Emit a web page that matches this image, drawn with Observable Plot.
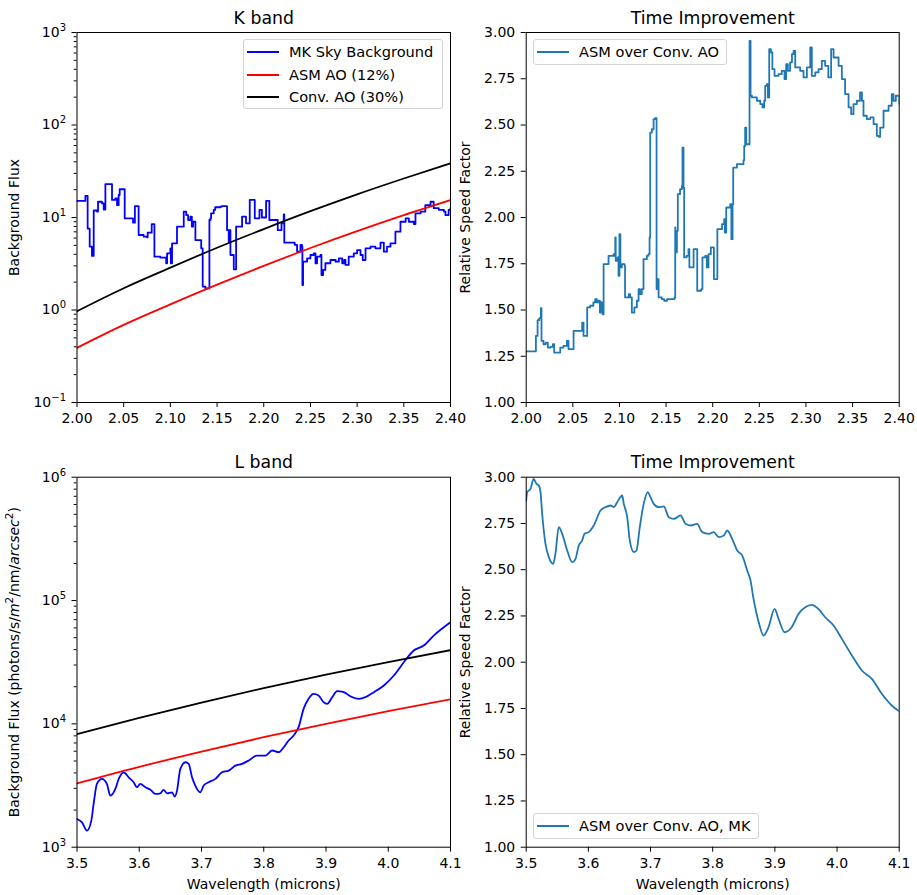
<!DOCTYPE html>
<html><head><meta charset="utf-8">
<script src="https://cdn.jsdelivr.net/npm/d3@7"></script>
<script src="https://cdn.jsdelivr.net/npm/@observablehq/plot@0.6"></script>
<style>
body{margin:0;background:#fff;}
#fig{position:relative;width:917px;height:895px;font-family:"DejaVu Sans",sans-serif;overflow:hidden;}
.panel{position:absolute;}
.legend{position:absolute;background:rgba(255,255,255,0.85);border:1px solid #d4d4d4;border-radius:3px;font-size:14.6px;color:#000;box-sizing:border-box;}
.row{position:absolute;left:0;height:20px;white-space:nowrap;}
.row .sw{position:absolute;left:3px;top:9px;width:32px;height:0;border-top:2px solid;}
.row span{position:absolute;left:45px;top:0px;line-height:20px;}
</style></head>
<body><div id="fig"></div>
<script>
// ---------- K band ----------
const kTicksX = [2.00, 2.05, 2.10, 2.15, 2.20, 2.25, 2.30, 2.35, 2.40];
const kFluxTicks = [0.1, 1, 10, 100, 1000];
const kFluxTickLabels = ["10^\u22121", "10^0", "10^1", "10^2", "10^3"];
const kSkyWave = [2.000,2.009,2.0114,2.0136,2.016,2.0179,2.0214,2.0225,2.0268,2.0286,2.0304,2.0375,2.041,2.0429,2.0446,2.0457,2.0511,2.060,2.062,2.066,2.0714,2.075,2.0757,2.080,2.0829,2.0893,2.0950,2.0955,2.0965,2.100,2.1005,2.1018,2.1071,2.1143,2.117,2.119,2.1214,2.123,2.1243,2.1268,2.133,2.1346,2.1375,2.1418,2.143,2.1436,2.1464,2.148,2.1536,2.155,2.1607,2.1625,2.1632,2.1643,2.1679,2.1704,2.1768,2.181,2.185,2.1904,2.1954,2.198,2.2025,2.206,2.215,2.219,2.2214,2.222,2.2332,2.2357,2.2393,2.241,2.2414,2.2421,2.2464,2.25,2.2536,2.2554,2.2571,2.2607,2.2618,2.2636,2.266,2.2714,2.277,2.2804,2.284,2.286,2.2875,2.291,2.2964,2.300,2.3036,2.306,2.309,2.3143,2.3196,2.325,2.3286,2.332,2.3357,2.341,2.3464,2.352,2.3554,2.3607,2.3625,2.368,2.373,2.3786,2.382,2.3875,2.393,2.3946,2.398,2.400];
const kSkyFlux = [15.1,17.1,7.6,4.84,3.84,11.9,11.6,14.8,14.2,12.2,23.0,15.5,16.1,13.6,17.5,20.2,9.8,8.8,13.3,6.47,6.2,6.1,6.86,8.5,3.77,3.68,3.68,3.2,4.1,4.64,3.2,5.26,7.96,11.6,10.6,9.4,10.2,7.96,9.0,5.7,4.64,1.79,1.71,9.4,9.8,11.1,12.1,12.9,13.1,13.3,7.3,5.48,7.3,3.93,2.75,7.96,10.2,8.65,15.5,9.8,12.1,10.0,15.1,9.4,7.3,8.65,10.8,5.35,5.05,4.27,5.05,4.84,1.86,3.33,3.62,3.93,4.1,3.2,3.77,3.93,2.39,2.71,3.2,3.47,3.33,3.62,3.2,3.47,3.07,3.77,4.1,4.45,3.93,3.47,4.64,4.84,4.64,5.35,4.27,4.84,5.26,7.03,9.0,9.8,9.0,8.5,11.1,11.6,13.6,14.8,12.6,12.1,11.6,10.6,12.1,12.6];
const kAOWave = [2.00, 2.05, 2.10, 2.15, 2.20, 2.25, 2.30, 2.35, 2.40];
const kAsmFlux = [0.39, 0.69, 1.15, 1.88, 3.0, 4.68, 7.12, 10.6, 15.4];
const kConvFlux = [0.97, 1.72, 2.87, 4.71, 7.5, 11.7, 17.8, 26.4, 38.5];
const kGainWave = [2.000,2.0104,2.0122,2.014,2.0157,2.0164,2.0186,2.021,2.0232,2.026,2.0286,2.030,2.0365,2.040,2.0436,2.0454,2.0508,2.060,2.0615,2.0654,2.0686,2.072,2.074,2.0758,2.0776,2.079,2.080,2.0819,2.083,2.0883,2.0937,2.095,2.0955,2.096,2.098,2.099,2.100,2.101,2.1026,2.1055,2.106,2.110,2.1115,2.1133,2.116,2.1187,2.1205,2.122,2.124,2.1258,2.1294,2.131,2.1323,2.133,2.1348,2.1366,2.1383,2.1398,2.1408,2.142,2.1455,2.148,2.151,2.159,2.1598,2.160,2.1616,2.1626,2.165,2.167,2.1676,2.1687,2.1694,2.172,2.174,2.175,2.1795,2.1834,2.1877,2.189,2.192,2.1937,2.1955,2.198,2.2013,2.205,2.210,2.2123,2.213,2.2145,2.2188,2.220,2.2213,2.222,2.226,2.233,2.2338,2.2348,2.236,2.2395,2.2406,2.242,2.2474,2.251,2.2534,2.2552,2.2563,2.258,2.2592,2.2606,2.2624,2.264,2.2663,2.2706,2.274,2.277,2.2788,2.2806,2.283,2.285,2.2867,2.2885,2.2938,2.2974,2.301,2.3046,2.3063,2.310,2.3135,2.317,2.3206,2.324,2.327,2.3296,2.335,2.3385,2.342,2.3457,2.3485,2.351,2.3546,2.358,2.360,2.3617,2.3653,2.369,2.3725,2.376,2.378,2.3796,2.3832,2.3886,2.392,2.3939,2.3964,2.400];
const kGain = [1.276,1.36,1.445,1.456,1.510,1.333,1.315,1.324,1.297,1.301,1.315,1.270,1.297,1.306,1.333,1.288,1.387,1.432,1.36,1.514,1.523,1.541,1.559,1.541,1.550,1.486,1.541,1.477,1.748,1.793,1.802,1.793,1.892,1.766,1.784,1.685,1.910,1.730,1.748,1.739,1.568,1.586,1.568,1.486,1.514,1.550,1.613,1.586,1.613,1.775,1.793,1.802,1.892,2.459,2.477,2.532,2.537,1.613,1.667,1.568,1.559,1.550,1.559,1.568,1.946,1.811,1.928,2.126,2.153,2.171,2.378,2.162,1.784,1.793,1.829,1.730,1.829,1.604,1.613,1.784,1.793,1.730,1.802,1.838,1.667,1.937,1.964,1.991,1.919,2.054,2.072,1.883,2.072,2.270,2.288,2.310,2.387,2.486,2.396,2.955,2.658,2.649,2.631,2.613,2.595,2.631,2.712,2.721,2.649,2.910,2.892,2.802,2.766,2.775,2.793,2.748,2.829,2.793,2.838,2.883,2.901,2.811,2.793,2.757,2.811,2.919,2.766,2.784,2.802,2.847,2.820,2.757,2.910,2.865,2.820,2.748,2.667,2.595,2.559,2.613,2.631,2.676,2.631,2.550,2.532,2.541,2.505,2.441,2.436,2.486,2.577,2.604,2.667,2.631,2.658,2.613];

// ---------- L band ----------
const lTicksX = [3.5, 3.6, 3.7, 3.8, 3.9, 4.0, 4.1];
const lFluxTicks = [1e3, 1e4, 1e5, 1e6];
const lFluxTickLabels = ["10^3", "10^4", "10^5", "10^6"];
const speedTicks = [1.00, 1.25, 1.50, 1.75, 2.00, 2.25, 2.50, 2.75, 3.00];
const lSkyWave = [3.5,3.508,3.516,3.523,3.5267,3.532,3.540,3.548,3.5535,3.5616,3.567,3.575,3.583,3.591,3.5964,3.6017,3.61,3.618,3.626,3.634,3.639,3.6447,3.6527,3.657,3.6607,3.666,3.674,3.6794,3.6848,3.690,3.698,3.7035,3.7115,3.7223,3.733,3.7437,3.7544,3.7652,3.7758,3.789,3.8026,3.8134,3.824,3.832,3.840,3.848,3.856,3.864,3.872,3.880,3.888,3.896,3.9018,3.91,3.918,3.9286,3.939,3.953,3.9634,3.977,3.993,4.009,4.025,4.041,4.057,4.073,4.1];
const lSkyFlux = [1694,1592,1364,1643,2244,3260,3580,3260,2620,2970,3580,4050,3690,3360,3060,3260,3060,2917,2705,2736,2917,2736,2786,2570,2877,4315,4886,4740,3690,3160,2786,3160,3360,3580,4050,4175,4590,4740,5040,5535,5535,6080,5890,6460,7330,8040,9400,13240,15950,17500,17000,15000,14530,16450,18400,18070,16760,15950,16450,18070,20470,24660,31620,39350,43150,52000,66700];
const lAOWave = [3.5, 3.6, 3.7, 3.8, 3.9, 4.0, 4.1];
const lAsmFlux = [3290, 4480, 5960, 7800, 10020, 12680, 15840];
const lConvFlux = [8240, 11190, 14890, 19500, 25050, 31700, 39600];
const lGainWave = [3.5,3.5016,3.507,3.512,3.5166,3.5203,3.523,3.5257,3.531,3.5364,3.5434,3.547,3.5524,3.5579,3.566,3.574,3.5793,3.5846,3.590,3.5938,3.6007,3.6087,3.6195,3.6275,3.6356,3.641,3.6464,3.6544,3.657,3.6625,3.6666,3.673,3.6774,3.6827,3.689,3.6956,3.6999,3.7052,3.7133,3.7213,3.7294,3.7374,3.7482,3.7562,3.7643,3.7751,3.7831,3.7937,3.8018,3.8098,3.8178,3.8233,3.8313,3.8394,3.8474,3.8555,3.8608,3.8657,3.874,3.8818,3.8898,3.8995,3.906,3.9155,3.927,3.938,3.9488,3.9595,3.970,3.981,3.9944,4.0078,4.0239,4.040,4.056,4.072,4.088,4.1];
const lGain = [2.874,2.919,2.937,2.991,2.964,2.955,2.919,2.802,2.640,2.568,2.532,2.586,2.730,2.694,2.604,2.541,2.559,2.631,2.658,2.694,2.703,2.739,2.820,2.838,2.847,2.838,2.865,2.901,2.856,2.784,2.658,2.595,2.604,2.730,2.856,2.919,2.892,2.856,2.838,2.842,2.784,2.775,2.793,2.748,2.739,2.748,2.703,2.694,2.703,2.676,2.685,2.712,2.667,2.604,2.577,2.496,2.442,2.342,2.216,2.144,2.189,2.288,2.234,2.162,2.189,2.261,2.297,2.310,2.288,2.243,2.198,2.126,2.036,1.955,1.910,1.829,1.766,1.735];

const BLUE = "#0000ff", RED = "#ff0000", BLACK = "#000000", TAB = "#1f77b4";
const fig = document.getElementById("fig");
const tk = 5, tp = 6;
const SVGNS = "http://www.w3.org/2000/svg";

function minorLog(lo, hi) {
  const out = [];
  for (let e = lo; e < hi; e++) for (let m = 2; m <= 9; m++) out.push(m * Math.pow(10, e));
  return out;
}

function panel(o) {
  const marks = [
    ...o.lines,
    Plot.frame({stroke: "black", strokeWidth: 1}),
    Plot.axisX({ticks: o.xTicks, tickFormat: o.xFmt, tickSize: tk, tickPadding: tp, fontSize: 14,
      label: o.xLabel || null, labelAnchor: "center", labelOffset: 42, labelArrow: "none"}),
    Plot.axisY({ticks: o.yTicks, tickFormat: o.yFmt, tickSize: tk, tickPadding: tp, fontSize: 14,
      label: o.yLabel, labelAnchor: "center", labelOffset: o.yLabelOffset, labelArrow: "none"}),
    Plot.text([o.title], {frameAnchor: "top", dy: -9, lineAnchor: "bottom", fontSize: 17.3, text: d => d})
  ];
  if (o.yMinor) marks.push(Plot.axisY({ticks: o.yMinor, tickFormat: () => "", tickSize: 2.8, label: null}));
  const chart = Plot.plot({
    width: o.w, height: o.h,
    marginLeft: o.mL, marginRight: o.mR, marginTop: o.mT, marginBottom: o.mB,
    x: {domain: o.xDomain},
    y: {type: o.yType || "linear", domain: o.yDomain},
    style: {fontFamily: "DejaVu Sans", fontSize: "14.5px", color: "black", background: "transparent", overflow: "visible"},
    marks
  });
  // power-of-ten tick labels: base plus raised exponent
  for (const t of chart.querySelectorAll("text")) {
    const m = /^10\^(.+)$/.exec(t.textContent);
    if (!m) continue;
    while (t.firstChild) t.removeChild(t.firstChild);
    const base = document.createElementNS(SVGNS, "tspan");
    base.textContent = "10";
    const ex = document.createElementNS(SVGNS, "tspan");
    ex.textContent = m[1];
    ex.setAttribute("font-size", "10px");
    ex.setAttribute("dy", "-6");
    t.appendChild(base); t.appendChild(ex);
  }
  chart.classList.add("panel");
  chart.style.left = o.left + "px";
  chart.style.top = o.top + "px";
  fig.appendChild(chart);
  return chart;
}

const lineOpts = (c, curve) => ({x: "x", y: "y", stroke: c, strokeWidth: 1.8, curve: curve || "linear", clip: true});
const zip = (xs, ys) => xs.map((x, i) => ({x, y: ys[i]}));

// Top-left: K band
panel({
  left: 0, top: 0, w: 458, h: 445, mL: 76.5, mR: 8, mT: 32, mB: 43,
  xDomain: [2.0, 2.4], xTicks: kTicksX, xFmt: d3.format(".2f"),
  yType: "log", yDomain: [0.1, 1000], yTicks: kFluxTicks,
  yFmt: d => kFluxTickLabels[kFluxTicks.indexOf(d)], yMinor: minorLog(-1, 3),
  yLabel: "Background Flux", yLabelOffset: 68, title: "K band",
  lines: [
    Plot.line(zip(kSkyWave, kSkyFlux), lineOpts(BLUE, "step-after")),
    Plot.line(zip(kAOWave, kAsmFlux), lineOpts(RED, "monotone-x")),
    Plot.line(zip(kAOWave, kConvFlux), lineOpts(BLACK, "monotone-x"))
  ]
});

// Top-right: K time improvement
panel({
  left: 458, top: 0, w: 459, h: 445, mL: 67.7, mR: 18.3, mT: 32, mB: 43,
  xDomain: [2.0, 2.4], xTicks: kTicksX, xFmt: d3.format(".2f"),
  yDomain: [1, 3], yTicks: speedTicks, yFmt: d3.format(".2f"),
  yLabel: "Relative Speed Factor", yLabelOffset: 66, title: "Time Improvement",
  lines: [Plot.line(zip(kGainWave, kGain), lineOpts(TAB, "step-after"))]
});

// Bottom-left: L band
const bl = panel({
  left: 0, top: 445, w: 458, h: 450, mL: 76.5, mR: 8, mT: 31.7, mB: 48.3,
  xDomain: [3.5, 4.1], xTicks: lTicksX, xFmt: d3.format(".1f"), xLabel: "Wavelength (microns)",
  yType: "log", yDomain: [1e3, 1e6], yTicks: lFluxTicks,
  yFmt: d => lFluxTickLabels[lFluxTicks.indexOf(d)], yMinor: minorLog(3, 6),
  yLabel: "Background Flux (photons/s/m2/nm/arcsec2)", yLabelOffset: 68, title: "L band",
  lines: [
    Plot.line(zip(lSkyWave, lSkyFlux), lineOpts(BLUE, "monotone-x")),
    Plot.line(zip(lAOWave, lAsmFlux), lineOpts(RED, "monotone-x")),
    Plot.line(zip(lAOWave, lConvFlux), lineOpts(BLACK, "monotone-x"))
  ]
});

// Bottom-right: L time improvement
panel({
  left: 458, top: 445, w: 459, h: 450, mL: 67.7, mR: 18.3, mT: 31.7, mB: 48.3,
  xDomain: [3.5, 4.1], xTicks: lTicksX, xFmt: d3.format(".1f"), xLabel: "Wavelength (microns)",
  yDomain: [1, 3], yTicks: speedTicks, yFmt: d3.format(".2f"),
  yLabel: "Relative Speed Factor", yLabelOffset: 66, title: "Time Improvement",
  lines: [Plot.line(zip(lGainWave, lGain), lineOpts(TAB, "monotone-x"))]
});

// Rich y label for L band (italic m, arcsec; superscripts)
(function () {
  for (const t of bl.querySelectorAll("text")) {
    if (t.textContent.startsWith("Background Flux (")) {
      while (t.firstChild) t.removeChild(t.firstChild);
      const parts = [
        ["Background Flux (photons/s/", null], ["m", "it"], ["2", "sup"],
        ["/nm/", null], ["arcsec", "it"], ["2", "sup"], [")", null]
      ];
      let shifted = false;
      for (const [s, k] of parts) {
        const ts = document.createElementNS(SVGNS, "tspan");
        ts.textContent = s;
        if (k === "it") ts.setAttribute("font-style", "italic");
        if (k === "sup") { ts.setAttribute("font-size", "10.5px"); ts.setAttribute("dy", "-6"); shifted = true; }
        else if (shifted) { ts.setAttribute("dy", "6"); shifted = false; }
        t.appendChild(ts);
      }
    }
  }
})();

// Legends
function legend(left, top, width, height, items) {
  const box = document.createElement("div");
  box.className = "legend";
  Object.assign(box.style, {left: left + "px", top: top + "px", width: width + "px", height: height + "px"});
  items.forEach(([label, color], i) => {
    const row = document.createElement("div");
    row.className = "row";
    row.style.top = (2 + i * 22.7) + "px";
    row.innerHTML = `<div class="sw" style="border-color:${color}"></div><span>${label}</span>`;
    box.appendChild(row);
  });
  fig.appendChild(box);
}
legend(243, 39, 200, 70, [["MK Sky Background", BLUE], ["ASM AO (12%)", RED], ["Conv. AO (30%)", BLACK]]);
legend(533, 39, 194, 26, [["ASM over Conv. AO", TAB]]);
legend(533, 813, 226, 26, [["ASM over Conv. AO, MK", TAB]]);
</script>
</body></html>
